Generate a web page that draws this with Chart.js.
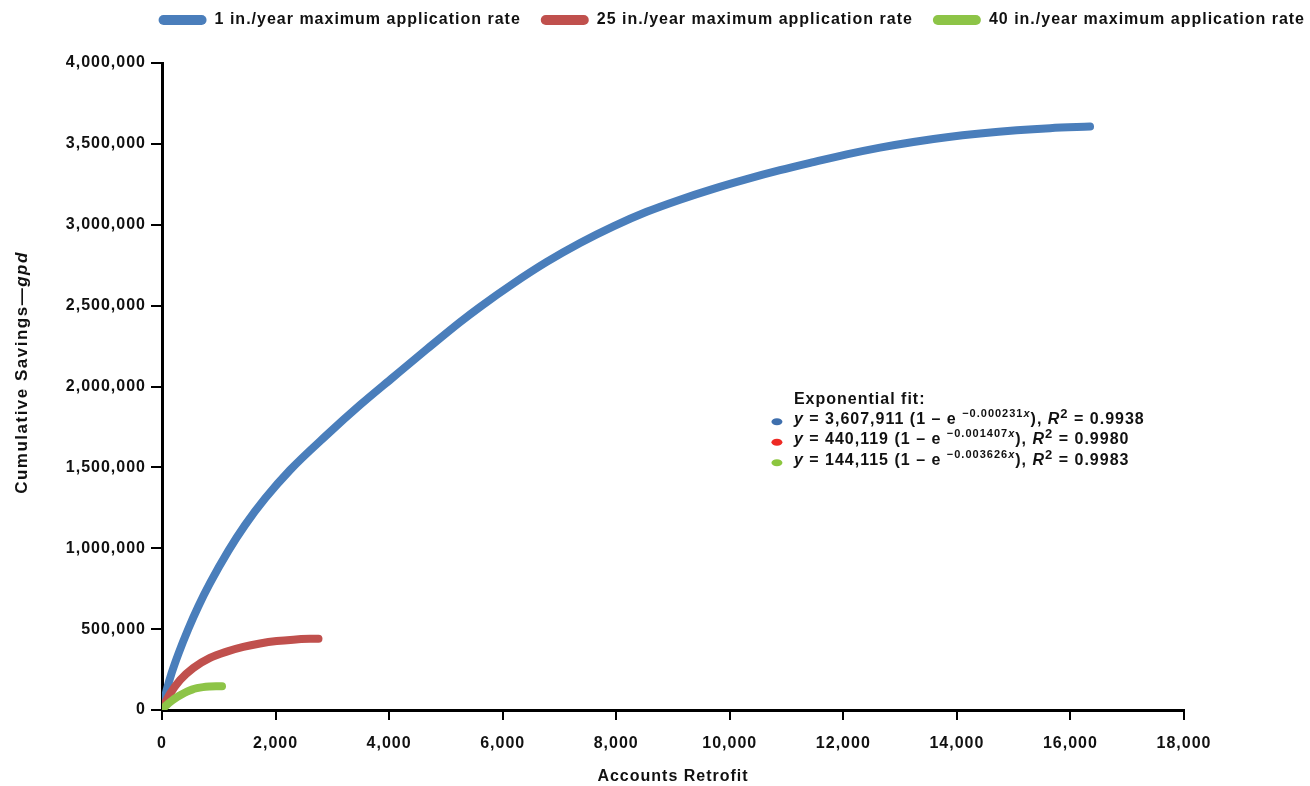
<!DOCTYPE html>
<html>
<head>
<meta charset="utf-8">
<script src="https://cdn.jsdelivr.net/npm/chart.js@4"></script>
<style>
  html, body { margin: 0; padding: 0; background: #fff; }
</style>
</head>
<body>
<canvas id="chart" width="1310" height="786"></canvas>
<script>
const canvasElement = document.getElementById('chart');

// series names
const seriesLabels = [
  '1 in./year maximum application rate',
  '25 in./year maximum application rate',
  '40 in./year maximum application rate'
];
const seriesColors = ['#4a7ebb', '#c0504d', '#8dc447'];

// values (accounts retrofit, cumulative gpd)
const blueX = [10, 83, 171, 287, 463, 639, 845, 1168, 1462, 1814, 2254, 2901, 3487, 4074, 4662, 5249, 5601, 6188,
  6776, 7363, 7950, 8537, 9123, 9711, 10298, 10885, 11472, 12060, 12646, 13233, 13821, 14408, 15054, 15640, 16345];
const blueY = [15000, 124000, 230000, 346000, 501000, 640000, 784000, 984000, 1143000, 1307000, 1483000, 1700000,
  1885000, 2058000, 2230000, 2398000, 2492000, 2637000, 2770000, 2887000, 2990000, 3080000, 3155000, 3222000,
  3282000, 3337000, 3387000, 3435000, 3477000, 3512000, 3541000, 3564000, 3584000, 3597000, 3607000];

const redX = [5, 40, 141, 317, 551, 845, 1140, 1432, 1726, 2020, 2313, 2607, 2756];
const redY = [5000, 32000, 100000, 185000, 260000, 322000, 361000, 390000, 411000, 426000, 435000, 440000, 441000];

const greenX = [5, 30, 88, 176, 264, 352, 440, 528, 616, 722, 845, 951, 1057];
const greenY = [3000, 13000, 33000, 58000, 79000, 97000, 113000, 126000, 135000, 141500, 145000, 146500, 147000];

// axis ticks
const xTicks = [0, 2000, 4000, 6000, 8000, 10000, 12000, 14000, 16000, 18000];
const yTicks = [0, 500000, 1000000, 1500000, 2000000, 2500000, 3000000, 3500000, 4000000];

// fit annotation text
const fitTitle = 'Exponential fit:';
const fitCoef = ['3,607,911', '440,119', '144,115'];
const fitRate = ['\u22120.000231', '\u22120.001407', '\u22120.003626'];
const fitR2 = ['0.9938', '0.9980', '0.9983'];
const fitDotColors = ['#3f6fad', '#ee2a24', '#8cc63f'];

const FONT = '"Liberation Sans", Arial, Helvetica, sans-serif';
const SPACING = '1px';

function toPoints(xs, ys) {
  return xs.map((x, i) => ({ x: x, y: ys[i] }));
}
const seriesData = [toPoints(blueX, blueY), toPoints(redX, redY), toPoints(greenX, greenY)];

// draw a row of text pieces with different fonts / offsets
function drawRuns(ctx, x, y, runs) {
  runs.forEach((r) => {
    ctx.font = r.font;
    ctx.fillText(r.text, x, y + (r.dy || 0));
    x += ctx.measureText(r.text).width;
  });
  return x;
}

// extra text: y axis title with italic unit, and the fit box
const extrasPlugin = {
  id: 'extras',
  beforeUpdate(chart) {
    chart.ctx.letterSpacing = SPACING;
  },
  beforeLayout(chart) {
    chart.ctx.letterSpacing = SPACING;
    // push the plot down below the legend
    const lg = chart.legend;
    if (lg && !lg._tall) {
      const fit = lg.fit;
      lg.fit = function () { fit.call(this); this.height = 71; };
      lg._tall = true;
    }
  },
  beforeDraw(chart) {
    chart.ctx.letterSpacing = SPACING;
  },
  afterDraw(chart) {
    const ctx = chart.ctx;
    const area = chart.chartArea;
    ctx.save();
    ctx.fillStyle = '#111';
    ctx.textBaseline = 'middle';

    // y axis title
    ctx.letterSpacing = '1.5px';
    const bold = 'bold 17px ' + FONT;
    const boldIt = 'italic bold 17px ' + FONT;
    ctx.font = bold;
    const w1 = ctx.measureText('Cumulative Savings\u2014').width;
    ctx.font = boldIt;
    const w2 = ctx.measureText('gpd').width;
    ctx.translate(22, (area.top + area.bottom) / 2 - 14);
    ctx.rotate(-Math.PI / 2);
    drawRuns(ctx, -(w1 + w2) / 2, 0, [
      { text: 'Cumulative Savings\u2014', font: bold },
      { text: 'gpd', font: boldIt }
    ]);
    ctx.restore();

    // fit box
    ctx.save();
    ctx.letterSpacing = SPACING;
    ctx.fillStyle = '#111';
    ctx.textBaseline = 'alphabetic';
    const xs = chart.scales.x;
    const ys = chart.scales.y;
    const left = xs.getPixelForValue(11130);
    const top = ys.getPixelForValue(1890000);
    const f = 'bold 16px ' + FONT;
    const fi = 'italic bold 16px ' + FONT;
    const sup = 'bold 11px ' + FONT;
    const supi = 'italic bold 11px ' + FONT;
    const sup2 = 'bold 13px ' + FONT;
    ctx.font = f;
    ctx.fillText(fitTitle, left, top);
    for (let i = 0; i < 3; i++) {
      const base = top + 19.5 + i * 20.5;
      ctx.fillStyle = fitDotColors[i];
      ctx.beginPath();
      ctx.ellipse(left - 17, base - 2, 5.5, 3.5, 0, 0, Math.PI * 2);
      ctx.fill();
      ctx.fillStyle = '#111';
      drawRuns(ctx, left, base, [
        { text: 'y', font: fi },
        { text: ' = ' + fitCoef[i] + ' (1 \u2013 e ', font: f },
        { text: fitRate[i], font: sup, dy: -7 },
        { text: 'x', font: supi, dy: -7 },
        { text: '), ', font: f },
        { text: 'R', font: fi },
        { text: '2', font: sup2, dy: -6 },
        { text: ' = ' + fitR2[i], font: f }
      ]);
    }
    ctx.restore();
  }
};

const numFmt = (v) => Number(v).toLocaleString('en-US');

const chart = new Chart(canvasElement, {
  type: 'line',
  data: {
    datasets: seriesData.map((pts, i) => ({
      label: seriesLabels[i],
      data: pts,
      borderColor: seriesColors[i],
      backgroundColor: seriesColors[i],
      borderWidth: 8,
      borderCapStyle: 'round',
      borderJoinStyle: 'round',
      pointRadius: 0,
      cubicInterpolationMode: 'monotone',
      fill: false,
      order: 3 - i
    }))
  },
  options: {
    responsive: false,
    animation: false,
    events: [],
    layout: { padding: { top: -8, right: -15, bottom: 0, left: 0 } },
    plugins: {
      tooltip: { enabled: false },
      legend: {
        position: 'top',
        align: 'end',
        labels: {
          boxWidth: 48,
          boxHeight: 10,
          useBorderRadius: true,
          borderRadius: 5,
          padding: 20,
          color: '#111',
          font: { family: FONT, size: 16, weight: 'bold' },
          generateLabels(chart) {
            return chart.data.datasets.map((ds, i) => ({
              text: ds.label,
              fillStyle: ds.borderColor,
              strokeStyle: ds.borderColor,
              lineWidth: 0,
              borderRadius: 5,
              fontColor: '#111',
              hidden: false,
              datasetIndex: i
            }));
          }
        }
      }
    },
    scales: {
      x: {
        type: 'linear',
        min: 0,
        max: 18000,
        afterBuildTicks(scale) { scale.ticks = xTicks.map((v) => ({ value: v })); },
        afterFit(scale) { scale.height = 76; scale.paddingRight = 126; },
        border: { display: true, color: '#000', width: 3 },
        grid: { drawOnChartArea: false, drawTicks: true, tickLength: 10, color: '#000', lineWidth: 2 },
        ticks: {
          color: '#111',
          padding: 14,
          maxRotation: 0,
          font: { family: FONT, size: 16, weight: 'bold' },
          callback: numFmt
        },
        title: {
          display: true,
          text: 'Accounts Retrofit',
          color: '#111',
          padding: { top: 0, bottom: 0 },
          font: { family: FONT, size: 16, weight: 'bold' }
        }
      },
      y: {
        type: 'linear',
        min: 0,
        max: 4000000,
        afterBuildTicks(scale) { scale.ticks = yTicks.map((v) => ({ value: v })); },
        afterFit(scale) { scale.width = 162; },
        border: { display: true, color: '#000', width: 3 },
        grid: { drawOnChartArea: false, drawTicks: true, tickLength: 11, color: '#000', lineWidth: 2 },
        ticks: {
          color: '#111',
          padding: 5,
          font: { family: FONT, size: 16, weight: 'bold' },
          callback: numFmt
        }
      }
    }
  },
  plugins: [extrasPlugin]
});
</script>
</body>
</html>
